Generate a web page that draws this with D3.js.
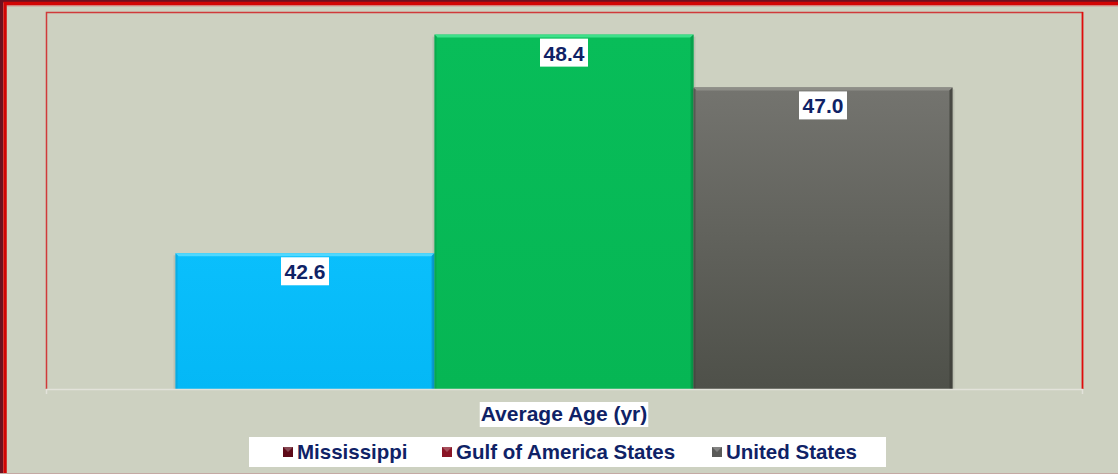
<!DOCTYPE html>
<html><head><meta charset="utf-8">
<script src="https://cdn.jsdelivr.net/npm/d3@7"></script>
<style>html,body{margin:0;padding:0;background:#CDD1C1;}svg{display:block;}</style>
</head><body>
<svg id="chart" width="1118" height="474"></svg>
<script>
const categories = ["Average Age (yr)"];
const seriesNames = ["Mississippi", "Gulf of America States", "United States"];
const seriesValues = [42.6, 48.4, 47.0];
const valueLabels = ["42.6", "48.4", "47.0"];
const legendColors = ["#5E0A18", "#8A1526", "#5A5A58"];

const W = 1118, H = 474;
const FONT = "Liberation Sans, Arial, sans-serif";
const TXT = "#0F2266";
const svg = d3.select("#chart");
const defs = svg.append("defs");

// background and outer frame (only left/top visible)
svg.append("rect").attr("x",0).attr("y",0).attr("width",W).attr("height",H).attr("fill","#CDD1C1");
svg.append("rect").attr("x",1.5).attr("y",1).attr("width",W+20).attr("height",H+20).attr("fill","none").attr("stroke","#6E1020").attr("stroke-width",3);
svg.append("rect").attr("x",5).attr("y",3.5).attr("width",W+20).attr("height",H+20).attr("fill","none").attr("stroke","#D20404").attr("stroke-width",3.5);
svg.append("line").attr("x1",7).attr("x2",W).attr("y1",5.8).attr("y2",5.8).attr("stroke","#D87070").attr("stroke-width",1);
svg.append("line").attr("x1",0).attr("x2",W).attr("y1",473.5).attr("y2",473.5).attr("stroke","#C4A9A4").attr("stroke-width",1);

const plot = {left:46, right:1082, top:12, bottom:389};

const x0 = d3.scaleBand().domain(categories).range([plot.left, plot.right]).paddingInner(0).paddingOuter(0.1667);
const x1 = d3.scaleBand().domain(seriesNames).range([0, x0.bandwidth()]).padding(0);
const y = d3.scaleLinear().domain([39, 49]).range([plot.bottom, plot.top]);

// plot frame (top, left, right)
svg.append("path").attr("d",`M${plot.left+0.5},${plot.bottom}V${plot.top+0.5}H${plot.right+0.5}V${plot.bottom}`)
  .attr("fill","none").attr("stroke","#D03A3A").attr("stroke-width",1.5);
svg.append("line").attr("x1",plot.right+0.5).attr("x2",plot.right+0.5).attr("y1",plot.top).attr("y2",plot.bottom).attr("stroke","#E00A0A").attr("stroke-width",1.5);

// gradients
const grads = [
  ["#0ABFFC","#04B8F6"],
  ["#08BD59","#06B654"],
  ["#74746F","#4E5049"]
];
grads.forEach((g,i)=>{
  const lg = defs.append("linearGradient").attr("id","g"+i).attr("x1",0).attr("y1",0).attr("x2",0).attr("y2",1);
  lg.append("stop").attr("offset","0%").attr("stop-color",g[0]);
  lg.append("stop").attr("offset","100%").attr("stop-color",g[1]);
});
const topHi = ["#4FD8FF","#3EE08A","#8E8E88"];
const sideDk = ["#0A9BD0","#079A48","#3E403A"];

const data = seriesNames.map((s,i)=>({s, v:seriesValues[i], i}));
const gBars = svg.append("g");
categories.forEach(cat=>{
  data.forEach(d=>{
    const bx = x0(cat) + x1(d.s), bw = x1.bandwidth();
    const by = y(d.v), bh = plot.bottom - by;
    gBars.append("rect").attr("x",bx-2).attr("y",by+2).attr("width",bw+4).attr("height",bh-2).attr("fill","#000").attr("opacity",0.08);
    gBars.append("rect").attr("x",bx).attr("y",by).attr("width",bw).attr("height",bh).attr("fill","url(#g"+d.i+")");
    gBars.append("path").attr("d",`M${bx},${by}L${bx+bw},${by}L${bx+bw-3},${by+3}L${bx+3},${by+3}Z`).attr("fill",topHi[d.i]);
    gBars.append("path").attr("d",`M${bx+bw},${by}L${bx+bw},${plot.bottom}L${bx+bw-3},${plot.bottom}L${bx+bw-3},${by+3}Z`).attr("fill",sideDk[d.i]).attr("opacity",0.8);
    gBars.append("path").attr("d",`M${bx},${by}L${bx},${plot.bottom}L${bx+2},${plot.bottom}L${bx+2},${by+2}Z`).attr("fill",sideDk[d.i]).attr("opacity",0.5);
    const cx = bx + bw/2;
    const t = gBars.append("text").attr("x",cx).attr("y",by+26).attr("text-anchor","middle")
      .attr("font-family",FONT).attr("font-weight","bold").attr("font-size",21)
      .attr("fill",TXT).text(valueLabels[d.i]);
    const bb = t.node().getBBox();
    gBars.insert("rect", () => t.node()).attr("x",bx + bw/2 - 24).attr("y",by+4).attr("width",48).attr("height",28).attr("fill","#fff");
  });
});

// x axis line
svg.append("line").attr("x1",plot.left).attr("x2",plot.right+1).attr("y1",plot.bottom+0.5).attr("y2",plot.bottom+0.5).attr("stroke","#E2E2DA").attr("stroke-width",1.5);
[plot.left, plot.right].forEach(xx=>{
  svg.append("line").attr("x1",xx+0.5).attr("x2",xx+0.5).attr("y1",plot.bottom).attr("y2",plot.bottom+5).attr("stroke","#E2E2DA").attr("stroke-width",1.5);
});

// category label
categories.forEach(cat=>{
  const cx = x0(cat) + x0.bandwidth()/2;
  const t = svg.append("text").attr("x",cx).attr("y",421).attr("text-anchor","middle")
    .attr("font-family",FONT).attr("font-weight","bold").attr("font-size",21)
    .attr("fill",TXT).text(cat);
  const bb = t.node().getBBox();
  svg.insert("rect", () => t.node()).attr("x",bb.x-1).attr("y",402).attr("width",bb.width+2).attr("height",25).attr("fill","#fff");
});

// legend
const lg = svg.append("g");
lg.append("rect").attr("x",249).attr("y",437).attr("width",637).attr("height",30).attr("fill","#fff");
const legendX = [283, 442, 712];
seriesNames.forEach((s,i)=>{
  const mx = legendX[i];
  lg.append("rect").attr("x",mx).attr("y",447).attr("width",10).attr("height",10).attr("fill",legendColors[i]);
  lg.append("path").attr("d",`M${mx},${447}L${mx+10},${447}L${mx+5},${452}Z`).attr("fill","#fff").attr("opacity",0.25);
  lg.append("text").attr("x",mx+14).attr("y",459).attr("font-family",FONT)
    .attr("font-weight","bold").attr("font-size",20.5).attr("fill",TXT).text(s);
});
</script>
</body></html>
